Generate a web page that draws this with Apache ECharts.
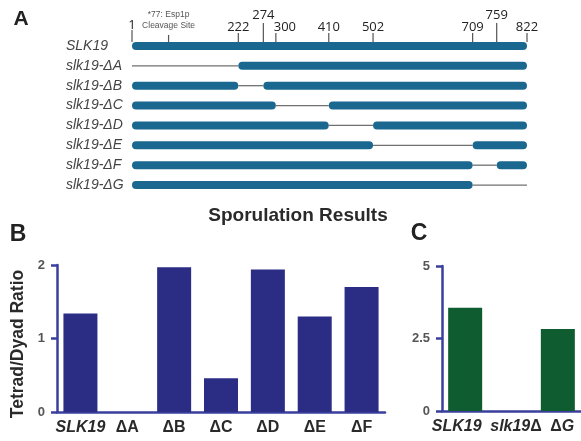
<!DOCTYPE html>
<html>
<head>
<meta charset="utf-8">
<script src="https://cdn.jsdelivr.net/npm/echarts@6/dist/echarts.min.js"></script>
<style>
  html, body { margin: 0; padding: 0; background: #fff; }
  #main { width: 581px; height: 441px; }
</style>
</head>
<body>
<div id="main"></div>
<script>
// panel A: constructs and deleted residue ranges
var constructs = ['SLK19', 'slk19-ΔA', 'slk19-ΔB', 'slk19-ΔC', 'slk19-ΔD', 'slk19-ΔE', 'slk19-ΔF', 'slk19-ΔG'];
var delStart = [null, 1, 222, 300, 410, 502, 709, 709];
var delEnd = [null, 222, 274, 410, 502, 709, 759, 822];
var proteinLength = 822;
var sites = [1, 77, 222, 274, 300, 410, 502, 709, 759, 822];
var siteLabels = ['1', '*77: Esp1p\nCleavage Site', '222', '274', '300', '410', '502', '709', '759', '822'];

// panel B
var bCategories = ['SLK19', 'ΔA', 'ΔB', 'ΔC', 'ΔD', 'ΔE', 'ΔF'];
var bValues = [1.34, 0, 1.97, 0.46, 1.94, 1.30, 1.70];

// panel C
var cCategories = ['SLK19', 'slk19Δ', 'ΔG'];
var cValues = [3.56, 0, 2.83];

var FONT = "'Liberation Sans', Arial, sans-serif";
var BAR_A = '#1a6890';
var AXIS_BLUE = '#3a3f9d';

// build segments: [row, start, end, kind]  kind 0 = kept, 1 = deleted
var thinSegs = [];
var thickSegs = [];
constructs.forEach(function (name, i) {
    if (delStart[i] === null) {
        thickSegs.push([i, 1, proteinLength, 0]);
        return;
    }
    if (delStart[i] > 1) thickSegs.push([i, 1, delStart[i], 0]);
    thinSegs.push([i, delStart[i], delEnd[i], 1]);
    if (delEnd[i] < proteinLength) thickSegs.push([i, delEnd[i], proteinLength, 0]);
});
var segData = thinSegs.concat(thickSegs);

function renderSegment(params, api) {
    var row = api.value(0);
    var p1 = api.coord([api.value(1), row]);
    var p2 = api.coord([api.value(2), row]);
    if (api.value(3) === 1) {
        return {
            type: 'line',
            shape: { x1: p1[0], y1: p1[1], x2: p2[0], y2: p2[1] },
            style: { stroke: '#707070', lineWidth: 1.3 }
        };
    }
    return {
        type: 'rect',
        shape: { x: p1[0], y: p1[1] - 4, width: p2[0] - p1[0], height: 8, r: 4 },
        style: { fill: BAR_A }
    };
}

function renderSite(params, api) {
    var site = api.value(0);
    var idx = api.value(2);
    var p = api.coord([site, 0]);
    var barTop = p[1] - 4;
    var tickUp = 9, labelUp = 15, dx = 0, font = '13px ' + "'Open Sans', " + FONT, fill = '#222';
    if (site === 274 || site === 759) { tickUp = 19; labelUp = 27; }
    if (site === 1) { tickUp = 12; labelUp = 17; }
    if (site === 300) { dx = 9; }
    if (site === 77) { tickUp = 7; labelUp = 22; font = '8.5px ' + FONT; fill = '#555'; }
    return {
        type: 'group',
        children: [{
            type: 'line',
            shape: { x1: p[0], y1: barTop, x2: p[0], y2: barTop - tickUp },
            style: { stroke: '#555', lineWidth: 1.2 }
        }, {
            type: 'text',
            x: p[0] + dx,
            y: barTop - labelUp,
            style: {
                text: siteLabels[idx],
                font: font,
                fill: fill,
                align: 'center',
                verticalAlign: 'middle',
                lineHeight: 11
            }
        }]
    };
}

function bLabel(v) {
    if (v === 'SLK19') return '{i|SLK19}';
    return '{n|' + v + '}';
}

// panel C labels are nudged apart like in the figure
function cLabel(v) {
    if (v === 'SLK19') return '{iL|SLK19}';
    if (v === 'slk19Δ') return '{iR|slk19}{n|Δ}';
    return '{nR|Δ}{i|G}';
}

var labelRich = {
    i: { fontFamily: FONT, fontWeight: 'bold', fontStyle: 'italic', fontSize: 16, color: '#2a2a2a' },
    n: { fontFamily: FONT, fontWeight: 'bold', fontSize: 16, color: '#2a2a2a' },
    iL: { fontFamily: FONT, fontWeight: 'bold', fontStyle: 'italic', fontSize: 16, color: '#2a2a2a', padding: [0, 17, 0, 0] },
    iR: { fontFamily: FONT, fontWeight: 'bold', fontStyle: 'italic', fontSize: 16, color: '#2a2a2a', padding: [0, 0, 0, 9] },
    nR: { fontFamily: FONT, fontWeight: 'bold', fontSize: 16, color: '#2a2a2a', padding: [0, 0, 0, 9] }
};

var dom = document.getElementById('main');
var myChart = echarts.init(dom, null, { renderer: 'canvas' });

var option = {
    backgroundColor: '#fff',
    animation: false,
    graphic: [
        { type: 'text', x: 21, y: 19, style: { text: 'A', font: 'bold 21px ' + FONT, fill: '#222', align: 'center', verticalAlign: 'middle' } },
        { type: 'text', x: 18, y: 235, style: { text: 'B', font: 'bold 23px ' + FONT, fill: '#222', align: 'center', verticalAlign: 'middle' } },
        { type: 'text', x: 419, y: 234, style: { text: 'C', font: 'bold 23px ' + FONT, fill: '#222', align: 'center', verticalAlign: 'middle' } },
        { type: 'text', x: 298, y: 216, style: { text: 'Sporulation Results', font: 'bold 19px ' + FONT, fill: '#2a2a2a', align: 'center', verticalAlign: 'middle' } }
    ],
    grid: [
        { left: 132, top: 36, width: 395, height: 159 },
        { left: 57, top: 265, width: 328, height: 147 },
        { left: 442, top: 266, width: 139, height: 145 }
    ],
    xAxis: [
        { gridIndex: 0, type: 'value', min: 1, max: proteinLength, show: false },
        {
            gridIndex: 1, type: 'category', data: bCategories,
            axisLine: { lineStyle: { color: AXIS_BLUE, width: 2.5 } },
            axisTick: { alignWithLabel: true, length: 6, lineStyle: { color: AXIS_BLUE, width: 2.5 } },
            axisLabel: { interval: 0, hideOverlap: false, margin: 8, formatter: bLabel, rich: labelRich }
        },
        {
            gridIndex: 2, type: 'category', data: cCategories,
            axisLine: { lineStyle: { color: AXIS_BLUE, width: 2.5 } },
            axisTick: { alignWithLabel: true, length: 6, lineStyle: { color: AXIS_BLUE, width: 2.5 } },
            axisLabel: { interval: 0, hideOverlap: false, margin: 8, formatter: cLabel, rich: labelRich }
        }
    ],
    yAxis: [
        {
            gridIndex: 0, type: 'category', data: constructs, inverse: true,
            axisLine: { show: false }, axisTick: { show: false },
            axisLabel: { interval: 0, align: 'left', margin: 66, fontFamily: FONT, fontStyle: 'italic', fontSize: 14, color: '#444' }
        },
        {
            gridIndex: 1, type: 'value', min: 0, max: 2, interval: 1,
            name: 'Tetrad/Dyad Ratio', nameLocation: 'middle', nameGap: 27, nameRotate: 90,
            nameTextStyle: { fontFamily: FONT, fontWeight: 'bold', fontSize: 17.5, color: '#2a2a2a', padding: [0, 11, 0, 0] },
            splitLine: { show: false },
            axisLine: { show: true, lineStyle: { color: AXIS_BLUE, width: 2.5 } },
            axisTick: { show: true, length: 6, lineStyle: { color: AXIS_BLUE, width: 2.5 } },
            axisLabel: { margin: 12, fontFamily: FONT, fontWeight: 'bold', fontSize: 13, color: '#555' }
        },
        {
            gridIndex: 2, type: 'value', min: 0, max: 5, interval: 2.5,
            splitLine: { show: false },
            axisLine: { show: true, lineStyle: { color: AXIS_BLUE, width: 2.5 } },
            axisTick: { show: true, length: 6, lineStyle: { color: AXIS_BLUE, width: 2.5 } },
            axisLabel: { margin: 12, fontFamily: FONT, fontWeight: 'bold', fontSize: 13, color: '#555' }
        }
    ],
    series: [
        {
            type: 'custom', xAxisIndex: 0, yAxisIndex: 0,
            renderItem: renderSegment,
            encode: { x: [1, 2], y: 0 },
            data: segData
        },
        {
            type: 'custom', xAxisIndex: 0, yAxisIndex: 0,
            renderItem: renderSite,
            encode: { x: 0, y: 1 },
            data: sites.map(function (s, i) { return [s, 0, i]; })
        },
        {
            type: 'bar', xAxisIndex: 1, yAxisIndex: 1,
            barWidth: 34, itemStyle: { color: '#2b2d85' },
            data: bValues
        },
        {
            type: 'bar', xAxisIndex: 2, yAxisIndex: 2,
            barWidth: 34, itemStyle: { color: '#0e5c30' },
            data: cValues
        }
    ]
};

if (option && typeof option === 'object') {
    myChart.setOption(option, true);
}
</script>
</body>
</html>
